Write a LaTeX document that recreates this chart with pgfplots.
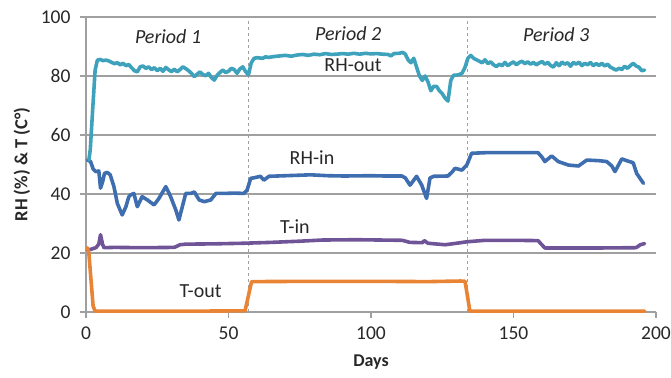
\documentclass[border=0pt]{standalone}
\usepackage{pgfplots}
\pgfplotsset{compat=1.18}
\usepackage{fontspec}
\setmainfont{Carlito}
\definecolor{rhout}{RGB}{62,162,188}
\definecolor{rhin}{RGB}{62,110,175}
\definecolor{tin}{RGB}{112,84,152}
\definecolor{tout}{RGB}{232,132,52}
\definecolor{gridgray}{RGB}{160,160,160}
\definecolor{ticktext}{RGB}{40,40,40}
\begin{document}
\begin{tikzpicture}
\useasboundingbox (-86bp,-66bp) rectangle (585bp,312bp);
\begin{axis}[
  at={(0,0)}, anchor=south west,
  scale only axis, width=570bp, height=295bp,
  xmin=0, xmax=200, ymin=0, ymax=100,
  xtick={0,50,100,150,200}, ytick={0,20,40,60,80,100},
  axis x line*=bottom, axis y line*=left,
  axis line style={draw=gridgray, line width=1.3bp, -},
  tick align=outside, major tick length=6bp,
  tick style={draw=gridgray, line width=1.2bp},
  ymajorgrids, grid style={draw=gridgray, line width=1.3bp},
  /pgf/number format/assume math mode=true,
  ticklabel style={font=\fontsize{19.5bp}{22bp}\selectfont, text=ticktext},
  yticklabel style={xshift=-6bp},
  xticklabel style={yshift=-5bp},
  every axis y label/.style={at={(axis description cs:0,0.5)}, xshift=-64bp, rotate=90, anchor=center, font=\fontsize{18.5bp}{20bp}\selectfont\bfseries, text=ticktext},
  every axis x label/.style={at={(axis description cs:0.5,0)}, yshift=-50bp, anchor=center, font=\fontsize{18bp}{20bp}\selectfont\bfseries, text=ticktext},
  ylabel={RH (\%) \& T (C°)},
  xlabel={Days},
  clip=false,
  every axis plot/.append style={line width=3.6bp, line join=round, line cap=round, mark=none},
]
\draw[gridgray, line width=1bp, dash pattern=on 3bp off 3bp] (axis cs:57,0) -- (axis cs:57,100);
\draw[gridgray, line width=1bp, dash pattern=on 3bp off 3bp] (axis cs:134,0) -- (axis cs:134,100);

% RH-in
\addplot[rhin] coordinates {
(0.5,51.5)(1.6,51)(2.5,48.5)(3.4,47.6)(4.5,47.8)(5.1,42)(5.8,44)(6.5,47)(7.5,47.3)(8.5,46.5)
(9.8,42.5)(11,36.8)(12.7,32.9)(14,35.7)(15,39)(15.7,39.7)(16.8,40.2)(18,35.7)(19.7,39.1)(21.5,38)
(23.9,36.3)(25.6,38.5)(28,42.5)(29.7,39.1)(31.5,34.6)(32.6,31.2)(33.8,35.7)(35,40.2)(36.8,40.2)(38,40.7)
(39.7,38)(41.5,37.4)(43.8,38)(45.6,40.2)(48.5,40.2)(52,40.3)(55.4,40.2)(56.5,41.3)(57.8,45.3)(59,45.5)
(61.2,46)(62.4,44.7)(64.2,46)(70,46.2)(78.8,46.5)(85,46.2)(90.5,46.1)(100,46.2)(105,46.1)(110.8,46.1)
(112,45.5)(113.7,43)(116,46)(117.8,43)(119.5,38.5)(120.7,45.4)(122,46)(127,46.1)(128.5,47.5)(129.5,48.7)
(131.9,48.1)(133.6,49.8)(135.3,53.8)(140,54)(150,54)(158.6,54)(160,52.5)(161,51)(163.4,52.9)(165.7,51)
(167.5,50.4)(169.3,49.8)(172.8,49.5)(175.7,51.5)(180,51.3)(182.7,51)(184.5,49.5)(185.6,47.6)(188,51.9)(190,51.2)
(192,50.6)(193.2,47)(195.6,43.6)
};

% RH-out
\addplot[rhout] coordinates {
(1,51.5)(1.5,55)(2.3,68)(3.2,82)(4,85.4)(5,85.6)(6,85.2)(7,85.4)(8,85.1)(9,84.6)
(10,84.2)(11,84.5)(12,83.8)(13,84.3)(14,83.5)(15,83.9)(16,82.8)(17,81.8)(18,81.4)(19,83.1)
(20,83.4)(21,82.6)(22,83.1)(23,82.2)(24,82.8)(25,81.8)(26,82.6)(27,81.6)(28,82.9)(29,82.1)
(30,81.5)(31,82.3)(32,81.4)(33,82.2)(34,83.1)(35,82.5)(36,81.8)(37,80.9)(38,79.8)(39,80.6)
(40,81.4)(41,80.5)(42,80.1)(43,80.9)(44,79.5)(45,78.6)(46,80.2)(47,81.2)(48,82)(49,81.2)
(50,81.6)(51,82.6)(52,82.2)(53,80.9)(54,82.4)(55,83.1)(56,81.5)(57,80.4)(58,84.5)(59,86)
(60,86.2)(62,86)(63,86.5)(64,86.3)(66,86.6)(68,86.8)(70,87)(72,86.7)(74,87.1)(76,87.3)
(78,87)(80,87.4)(82,87.2)(84,87.6)(86,87.3)(88,87.4)(90,87.6)(92,87.4)(94,87.7)(96,87.4)
(98,87.7)(100,87.5)(102,87.6)(104,87.4)(106,87.3)(107,86.8)(108,87.6)(110,87.7)(111,88)(112,87.5)
(113,85.5)(114,84.5)(115,86)(116,83)(117,80)(118,78.5)(119,80)(120,78)(121,75)(122,76.5)
(123,76.5)(124,75)(125,74)(126,72.5)(127,71.5)(128,78.5)(129,80.3)(130,80.3)(131,80.5)(132,81)
(133,83)(134,86)(135,87)(136,86)(137,85.5)(138,85)(139,84.5)(140,85.5)(141,84.2)(142,84.8)
(143,83.8)(144,83.2)(145,84)(146,83.5)(147,84.6)(148,83.5)(149,84.2)(150,84.8)(151,83.8)(152,84.6)
(153,85)(154,84.2)(155,84.8)(156,84)(157,84.6)(158,83.8)(159,84.4)(160,84.9)(161,84)(162,84.6)
(163,83.6)(164,83)(165,84.5)(166,83.5)(167,84.7)(168,84)(169,84.5)(170,83.3)(171,84.6)(172,84)
(173,84.7)(174,83.5)(175,84.3)(176,83.8)(177,84.6)(178,83.5)(179,84.2)(180,83.6)(181,84.3)(182,83.4)
(183,84)(184,83)(185,82.5)(186,82)(187,82.6)(188,82.2)(189,83.3)(190,82.6)(191,83.5)(192,84.3)
(193,83.4)(194,83)(195,81.8)(196,82)
};

% T-in
\addplot[tin] coordinates {
(0.5,21)(1.5,21.2)(3.5,21.8)(4.5,23)(5.1,26.2)(5.8,23)(6.3,21.8)(10,21.9)(20,21.8)(31,21.9)
(33,22.8)(35,23)(45,23.1)(55,23.3)(65,23.6)(75,24)(83,24.4)(95,24.5)(111,24.3)(113.6,23.6)
(118,23.5)(118.7,24.2)(120,23.3)(126,22.8)(130,23.3)(133.6,23.8)(140,24.3)(150,24.3)(158.6,24.2)(161,21.7)
(170,21.7)(180,21.7)(193,21.8)(194.5,22.8)(196,23.2)
};

% T-out
\addplot[tout] coordinates {
(0.5,21.8)(1,20)(2.5,2)(3.2,0.3)(20,0.3)(40,0.3)(55.8,0.4)(58.1,10.3)(80,10.4)(100,10.4)
(120,10.3)(131.5,10.5)(133,10.4)(134.7,0.3)(150,0.3)(170,0.3)(196,0.3)
};

\node[font=\fontsize{20bp}{24bp}\selectfont\itshape, text=ticktext] at (axis cs:28.8,93.2) {Period 1};
\node[font=\fontsize{20bp}{24bp}\selectfont\itshape, text=ticktext] at (axis cs:92,94.5) {Period 2};
\node[font=\fontsize{20bp}{24bp}\selectfont\itshape, text=ticktext] at (axis cs:165,94) {Period 3};
\node[font=\fontsize{20bp}{24bp}\selectfont, text=ticktext] at (axis cs:93.7,83.7) {RH-out};
\node[font=\fontsize{20bp}{24bp}\selectfont, text=ticktext] at (axis cs:79.3,52.2) {RH-in};
\node[font=\fontsize{20bp}{24bp}\selectfont, text=ticktext] at (axis cs:73.3,28.9) {T-in};
\node[font=\fontsize{20bp}{24bp}\selectfont, text=ticktext] at (axis cs:40.2,6.9) {T-out};
\end{axis}
\end{tikzpicture}
\end{document}
